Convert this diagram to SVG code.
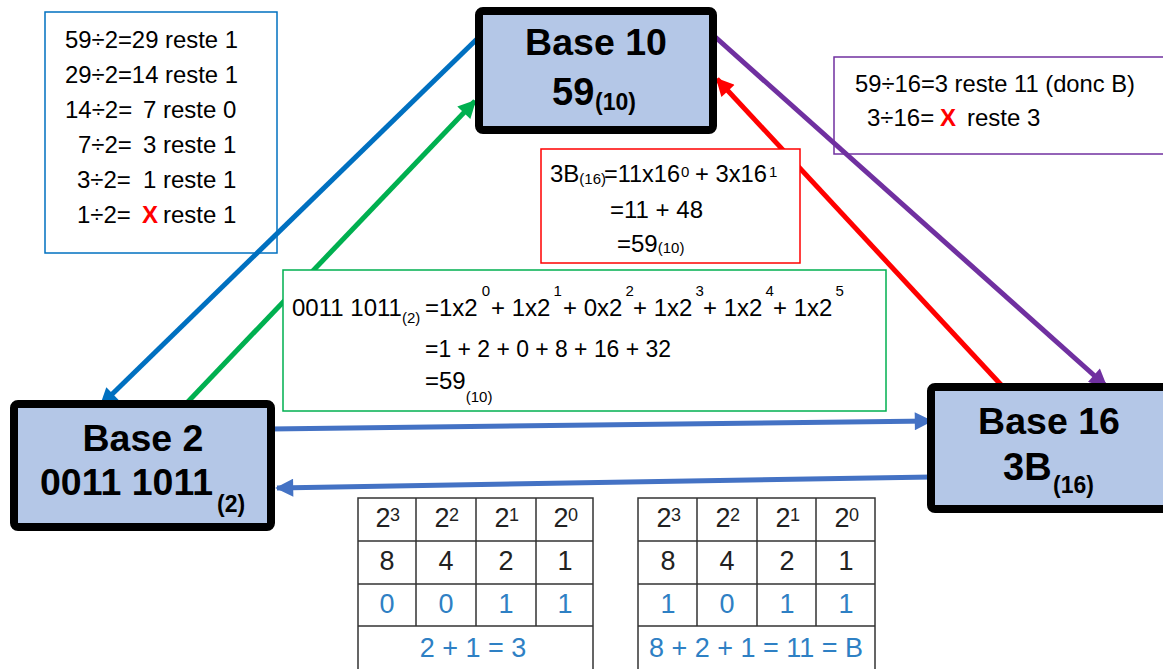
<svg xmlns="http://www.w3.org/2000/svg" width="1163" height="669" viewBox="0 0 1163 669">
<style>
.node{fill:#B4C7E7;stroke:#000;stroke-width:8}
.h{font-family:"Liberation Sans",Arial,sans-serif;font-weight:bold;fill:#000}
.t{font-family:"Liberation Sans",Arial,sans-serif;font-size:24px;fill:#000}
.s{font-size:15px}
.x{font-weight:bold;fill:#FF0000}
.tb{fill:#fff;stroke-width:1.5}
.c{fill:none;stroke-width:5}
.tab{fill:#fff;stroke:#333;stroke-width:1.5}
.tt{font-family:"Liberation Sans",Arial,sans-serif;font-size:27px;fill:#222;text-anchor:middle}
.tblue{fill:#2E80C4}
</style>
<defs>
<marker id="mBlue" viewBox="0 0 10 10" refX="9" refY="5" markerWidth="4" markerHeight="3.6" orient="auto"><path d="M0,0 L10,5 L0,10 z" fill="#0070C0"/></marker>
<marker id="mGreen" viewBox="0 0 10 10" refX="9" refY="5" markerWidth="4" markerHeight="3.6" orient="auto"><path d="M0,0 L10,5 L0,10 z" fill="#00B050"/></marker>
<marker id="mPurple" viewBox="0 0 10 10" refX="9" refY="5" markerWidth="4" markerHeight="3.6" orient="auto"><path d="M0,0 L10,5 L0,10 z" fill="#7030A0"/></marker>
<marker id="mRed" viewBox="0 0 10 10" refX="9" refY="5" markerWidth="4" markerHeight="3.6" orient="auto"><path d="M0,0 L10,5 L0,10 z" fill="#FF0000"/></marker>
<marker id="mBlue2" viewBox="0 0 10 10" refX="9" refY="5" markerWidth="4" markerHeight="3.6" orient="auto"><path d="M0,0 L10,5 L0,10 z" fill="#4472C4"/></marker>
</defs>
<rect width="1163" height="669" fill="#fff"/>

<!-- text boxes -->
<g id="box-div2">
<rect class="tb" x="45" y="12" width="232" height="241" stroke="#0070C0"/>
<text class="t" x="65" y="48" textLength="173" lengthAdjust="spacingAndGlyphs">59÷2=29 reste 1</text>
<text class="t" x="65" y="83" textLength="173" lengthAdjust="spacingAndGlyphs">29÷2=14 reste 1</text>
<text class="t" y="118"><tspan x="65">14÷2=</tspan><tspan x="143">7 reste 0</tspan></text>
<text class="t" y="153"><tspan x="78">7÷2=</tspan><tspan x="143">3 reste 1</tspan></text>
<text class="t" y="188"><tspan x="77">3÷2=</tspan><tspan x="143">1 reste 1</tspan></text>
<text class="t" y="223"><tspan x="77">1÷2=</tspan><tspan class="x" x="142">X</tspan><tspan x="163">reste 1</tspan></text>
</g>

<g id="box-div16">
<rect class="tb" x="834" y="57" width="340" height="97" stroke="#7030A0"/>
<text class="t" x="855" y="92" textLength="280" lengthAdjust="spacingAndGlyphs">59÷16=3 reste 11 (donc B)</text>
<text class="t" y="126"><tspan x="867">3÷16=</tspan><tspan class="x" x="940">X</tspan><tspan x="967">reste 3</tspan></text>
</g>

<!-- connectors -->
<g id="connectors">
<line class="c" x1="477" y1="39" x2="101" y2="405" stroke="#0070C0" marker-end="url(#mBlue)"/>
<line class="c" x1="182" y1="408" x2="475" y2="101" stroke="#00B050" marker-end="url(#mGreen)"/>
<line class="c" x1="713" y1="35" x2="1106" y2="386" stroke="#7030A0" marker-end="url(#mPurple)"/>
<line class="c" x1="1004" y1="388" x2="717" y2="79" stroke="#FF0000" marker-end="url(#mRed)"/>
<line class="c" x1="270" y1="429" x2="931" y2="421" stroke="#4472C4" marker-end="url(#mBlue2)"/>
<line class="c" x1="932" y1="477" x2="277" y2="488" stroke="#4472C4" marker-end="url(#mBlue2)"/>
</g>

<g id="box-hex-to-dec">
<rect class="tb" x="541" y="149" width="259" height="114" stroke="#FF0000"/>
<text class="t"><tspan x="550" y="182">3B</tspan><tspan class="s" y="184">(16)</tspan><tspan x="604" y="182" textLength="76" lengthAdjust="spacingAndGlyphs">=11x16</tspan><tspan class="s" x="681" y="177">0</tspan><tspan x="695" y="182" textLength="72" lengthAdjust="spacingAndGlyphs">+ 3x16</tspan><tspan class="s" x="769" y="177">1</tspan></text>
<text class="t" x="610" y="218">=11 + 48</text>
<text class="t"><tspan x="617" y="252">=59</tspan><tspan class="s" y="253">(10)</tspan></text>
</g>

<g id="box-bin-to-dec">
<rect class="tb" x="283" y="270" width="603" height="141" stroke="#00B050"/>
<text class="t" y="316"><tspan x="292">0011 1011</tspan><tspan class="s" y="323">(2)</tspan><tspan x="425" y="316">=1x2</tspan><tspan class="s" dx="4" y="296">0</tspan><tspan x="491" y="316">+ 1x2</tspan><tspan class="s" dx="3" y="296">1</tspan><tspan x="563" y="316">+ 0x2</tspan><tspan class="s" dx="3" y="296">2</tspan><tspan x="633" y="316">+ 1x2</tspan><tspan class="s" dx="3" y="296">3</tspan><tspan x="703" y="316">+ 1x2</tspan><tspan class="s" dx="3" y="296">4</tspan><tspan x="773" y="316">+ 1x2</tspan><tspan class="s" dx="3" y="296">5</tspan></text>
<text class="t" x="425" y="357" textLength="246" lengthAdjust="spacingAndGlyphs">=1 + 2 + 0 + 8 + 16 + 32</text>
<text class="t"><tspan x="425" y="389">=59</tspan><tspan class="s" y="402">(10)</tspan></text>
</g>

<!-- nodes -->
<g id="node-base10">
<rect class="node" x="479" y="11" width="234" height="119" rx="4"/>
<text class="h" x="596" y="55" font-size="37.5" text-anchor="middle">Base 10</text>
<text class="h" y="105"><tspan x="552" font-size="38">59</tspan><tspan x="595" y="110" font-size="23">(10)</tspan></text>
</g>

<g id="node-base2">
<rect class="node" x="14" y="404" width="257" height="123" rx="4"/>
<text class="h" x="143" y="451" font-size="37.5" text-anchor="middle">Base 2</text>
<text class="h" y="495"><tspan x="40" font-size="37.5" textLength="173" lengthAdjust="spacingAndGlyphs">0011 1011</tspan><tspan x="217" y="512" font-size="23">(2)</tspan></text>
</g>

<g id="node-base16">
<rect class="node" x="931" y="387" width="240" height="122" rx="4"/>
<text class="h" x="1049" y="434" font-size="37.5" text-anchor="middle">Base 16</text>
<text class="h" y="480"><tspan x="1003" font-size="38">3B</tspan><tspan x="1053" y="493" font-size="23">(16)</tspan></text>
</g>

<!-- tables -->
<g id="table-3">
<rect class="tab" x="358" y="498" width="235" height="190"/>
<path d="M358,541H593M358,584H593M358,626H593M416,498V626M476,498V626M536,498V626" stroke="#333" stroke-width="1.5" fill="none"/>
<text class="tt" y="527"><tspan x="383">2</tspan><tspan x="395" y="521" font-size="18">3</tspan></text>
<text class="tt" y="527"><tspan x="442">2</tspan><tspan x="454" y="521" font-size="18">2</tspan></text>
<text class="tt" y="527"><tspan x="502">2</tspan><tspan x="514" y="521" font-size="18">1</tspan></text>
<text class="tt" y="527"><tspan x="561">2</tspan><tspan x="573" y="521" font-size="18">0</tspan></text>
<text class="tt" y="570"><tspan x="387">8</tspan><tspan x="446">4</tspan><tspan x="506">2</tspan><tspan x="565">1</tspan></text>
<text class="tt tblue" y="613"><tspan x="387">0</tspan><tspan x="446">0</tspan><tspan x="506">1</tspan><tspan x="565">1</tspan></text>
<text class="tt tblue" x="473" y="657">2 + 1 = 3</text>
</g>

<g id="table-B">
<rect class="tab" x="638" y="498" width="237" height="190"/>
<path d="M638,541H875M638,584H875M638,626H875M697,498V626M757,498V626M816,498V626" stroke="#333" stroke-width="1.5" fill="none"/>
<text class="tt" y="527"><tspan x="664">2</tspan><tspan x="676" y="521" font-size="18">3</tspan></text>
<text class="tt" y="527"><tspan x="723">2</tspan><tspan x="735" y="521" font-size="18">2</tspan></text>
<text class="tt" y="527"><tspan x="783">2</tspan><tspan x="795" y="521" font-size="18">1</tspan></text>
<text class="tt" y="527"><tspan x="842">2</tspan><tspan x="854" y="521" font-size="18">0</tspan></text>
<text class="tt" y="570"><tspan x="668">8</tspan><tspan x="727">4</tspan><tspan x="787">2</tspan><tspan x="846">1</tspan></text>
<text class="tt tblue" y="613"><tspan x="668">1</tspan><tspan x="727">0</tspan><tspan x="787">1</tspan><tspan x="846">1</tspan></text>
<text class="tt tblue" x="756" y="657">8 + 2 + 1 = 11 = B</text>
</g>
</svg>
